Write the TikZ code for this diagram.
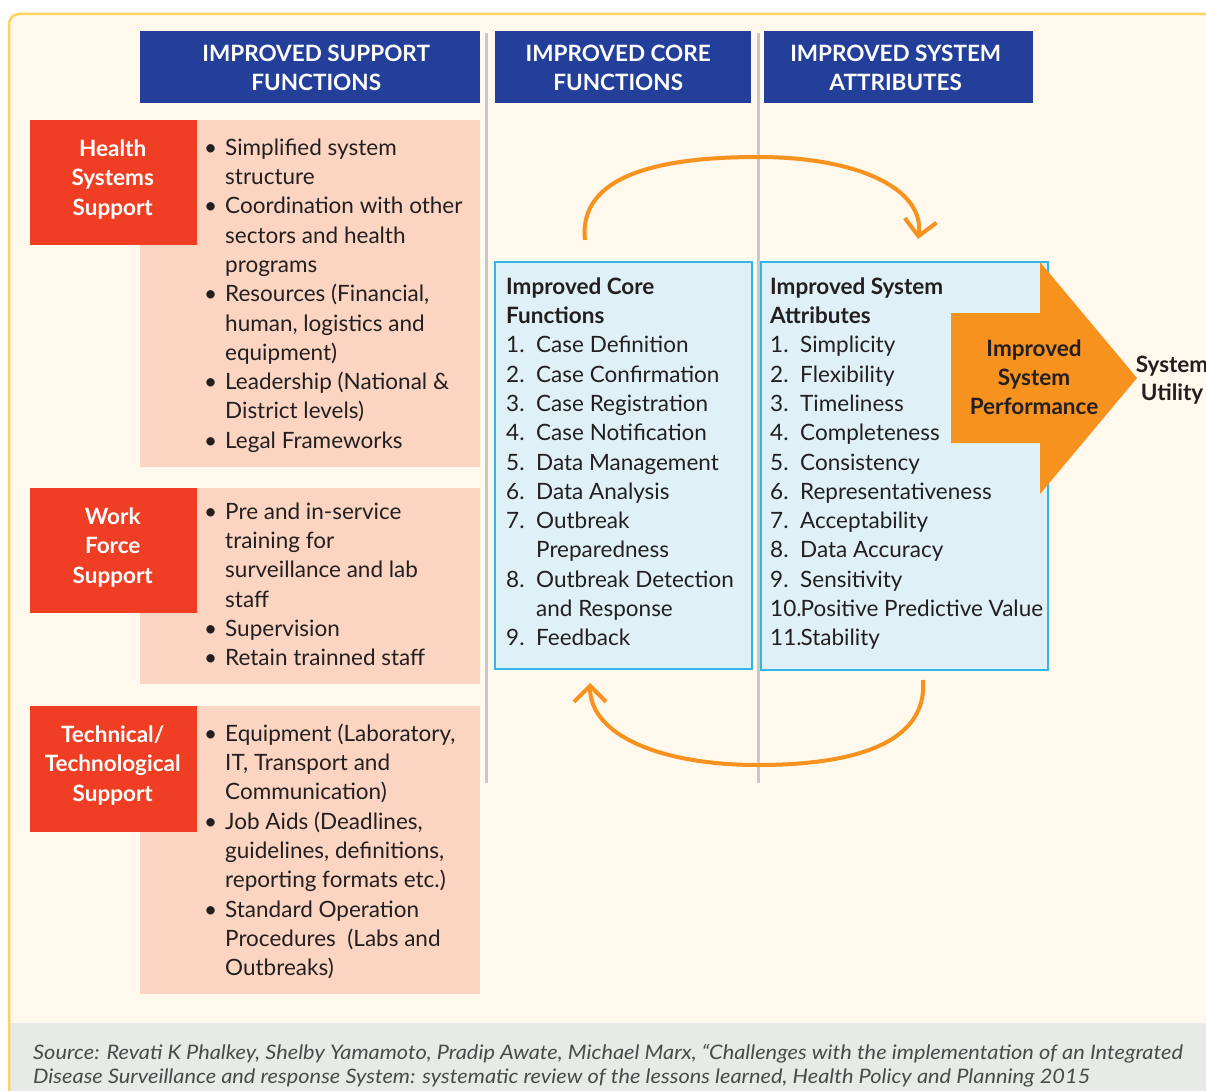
\documentclass[tikz,border=0pt]{standalone}
\usepackage{fontspec}
\setmainfont{Lato}
\newfontfamily\srcfont[FakeStretch=1.09]{Lato}
\usepackage{xcolor}
\usetikzlibrary{arrows.meta}

\definecolor{framey}{HTML}{FFD25C}
\definecolor{cream}{HTML}{FFF8EC}
\definecolor{srcgray}{HTML}{E6EBE7}
\definecolor{srcink}{HTML}{4A4A4A}
\definecolor{hdrblue}{HTML}{233F99}
\definecolor{suppred}{HTML}{EF3E23}
\definecolor{salmon}{HTML}{FBD5C1}
\definecolor{lightb}{HTML}{DFF1F6}
\definecolor{cyanb}{HTML}{33B5E5}
\definecolor{perforange}{HTML}{F7921E}
\definecolor{sepgray}{HTML}{C8C8C8}
\definecolor{ink}{HTML}{231F20}

\newcommand{\bodysize}{\fontsize{22.5}{29.3}\selectfont}

\begin{document}
\begin{tikzpicture}[x=1pt,y=-1pt,
    hdr/.style={fill=hdrblue,inner sep=0pt,anchor=north west,minimum height=72pt},
    hdrtxt/.style={text=white,font=\bfseries\fontsize{22.5}{28.5}\selectfont,inner sep=0pt},
    redbox/.style={fill=suppred,inner sep=0pt,anchor=north west,minimum width=167pt,minimum height=125pt},
    redtxt/.style={text=white,font=\bfseries\fontsize{22.5}{29.5}\selectfont,inner sep=0pt},
    listtxt/.style={text=ink,font=\bodysize,inner sep=0pt,anchor=north west},
    infobox/.style={draw=cyanb,fill=lightb,line width=1.5pt,inner sep=0pt,anchor=north west},
    cyclearrow/.style={draw=perforange,line width=4pt,-{Straight Barb[length=16pt,width=32pt]}}
]
    \useasboundingbox (0,0) rectangle (1206,1091);
    \fill[white] (0,0) rectangle (1206,1091);

    % frame and source band
    \fill[cream,rounded corners=10pt] (9,14) -- (1230,14) -- (1230,1110) -- (9,1110) -- cycle;
    \fill[srcgray] (9,1023) rectangle (1230,1110);
    \draw[framey,line width=2.5pt,rounded corners=10pt] (1230,14) -- (9,14) -- (9,1110);

    % column separators
    \draw[sepgray,line width=3pt] (486,33) -- (486,783);
    \draw[sepgray,line width=3pt] (758,33) -- (758,783);

    % headers
    \node[hdr,minimum width=340pt] (hsupport) at (140,31) {};
    \node[hdr,minimum width=256pt] (hcore) at (495,31) {};
    \node[hdr,minimum width=269pt] (hattr) at (764,31) {};
    \node[hdrtxt] at ([xshift=6pt,yshift=-3pt]hsupport.center) {\begin{tabular}{@{}c@{}}IMPROVED SUPPORT\\FUNCTIONS\end{tabular}};
    \node[hdrtxt] at ([xshift=-5pt,yshift=-3pt]hcore.center) {\begin{tabular}{@{}c@{}}IMPROVED CORE\\FUNCTIONS\end{tabular}};
    \node[hdrtxt] at ([xshift=-3pt,yshift=-3pt]hattr.center) {\begin{tabular}{@{}c@{}}IMPROVED SYSTEM\\ATTRIBUTES\end{tabular}};

    % support functions
    \fill[salmon] (140,120) rectangle (480,467);
    \fill[salmon] (140,488) rectangle (480,684);
    \fill[salmon] (140,706) rectangle (480,994);

    \node[redbox] (hss) at (30,120) {};
    \node[redbox] (wfs) at (30,488) {};
    \node[redbox,minimum height=126pt] (tts) at (30,706) {};
    \node[redtxt] at ([xshift=-1pt,yshift=3pt]hss.center) {\begin{tabular}{@{}c@{}}Health\\Systems\\Support\end{tabular}};
    \node[redtxt] at ([xshift=-1pt,yshift=3pt]wfs.center) {\begin{tabular}{@{}c@{}}Work\\Force\\Support\end{tabular}};
    \node[redtxt] at ([xshift=-1pt,yshift=3.5pt]tts.center) {\begin{tabular}{@{}c@{}}Technical/\\Technological\\Support\end{tabular}};

    \node[listtxt] (hsslist) at (204,134.5) {\begin{tabular}{@{}p{21pt}@{}l@{}}
        \textbullet & Simplified system\\
                    & structure\\
        \textbullet & Coordination with other\\
                    & sectors and health\\
                    & programs\\
        \textbullet & Resources (Financial,\\
                    & human, logistics and\\
                    & equipment)\\
        \textbullet & Leadership (National \&\\
                    & District levels)\\
        \textbullet & Legal Frameworks
    \end{tabular}};
    \node[listtxt] (wfslist) at (204,498.5) {\begin{tabular}{@{}p{21pt}@{}l@{}}
        \textbullet & Pre and in-service\\
                    & training for\\
                    & surveillance and lab\\
                    & staff\\
        \textbullet & Supervision\\
        \textbullet & Retain trainned staff
    \end{tabular}};
    \node[listtxt] (ttslist) at (204,720.5) {\begin{tabular}{@{}p{21pt}@{}l@{}}
        \textbullet & Equipment (Laboratory,\\
                    & IT, Transport and\\
                    & Communication)\\
        \textbullet & Job Aids (Deadlines,\\
                    & guidelines, definitions,\\
                    & reporting formats etc.)\\
        \textbullet & Standard Operation\\
                    & Procedures\ \ (Labs and\\
                    & Outbreaks)
    \end{tabular}};

    % core functions and system attributes
    \node[infobox,minimum width=257pt,minimum height=407pt] (corebox) at (494,261) {};
    \node[infobox,minimum width=287pt,minimum height=408pt] (attrbox) at (760,261) {};

    \node[listtxt] (corelist) at (506,273.5) {\begin{tabular}{@{}p{30pt}@{}l@{}}
        \multicolumn{2}{@{}l@{}}{\bfseries Improved Core}\\
        \multicolumn{2}{@{}l@{}}{\bfseries Functions}\\
        1. & Case Definition\\
        2. & Case Confirmation\\
        3. & Case Registration\\
        4. & Case Notification\\
        5. & Data Management\\
        6. & Data Analysis\\
        7. & Outbreak\\
           & Preparedness\\
        8. & Outbreak Detection\\
           & and Response\\
        9. & Feedback
    \end{tabular}};
    \node[listtxt] (attrlist) at (770,273.5) {\begin{tabular}{@{}p{30pt}@{}l@{}}
        \multicolumn{2}{@{}l@{}}{\bfseries Improved System}\\
        \multicolumn{2}{@{}l@{}}{\bfseries Attributes}\\
        1. & Simplicity\\
        2. & Flexibility\\
        3. & Timeliness\\
        4. & Completeness\\
        5. & Consistency\\
        6. & Representativeness\\
        7. & Acceptability\\
        8. & Data Accuracy\\
        9. & Sensitivity\\
        \multicolumn{2}{@{}l@{}}{10.\kern-1pt Positive Predictive Value}\\
        \multicolumn{2}{@{}l@{}}{11.\kern-1pt Stability}
    \end{tabular}};

    % performance arrow
    \fill[perforange] (951,313) -- (1040,313) -- (1040,262) -- (1137,378)
        -- (1040,494) -- (1040,443) -- (951,443) -- cycle;
    \node[text=ink,font=\bfseries\fontsize{22.5}{29}\selectfont,inner sep=0pt] (perf) at (1034,380)
        {\begin{tabular}{@{}c@{}}Improved\\System\\Performance\end{tabular}};
    \node[text=ink,font=\bfseries\fontsize{22.5}{28.5}\selectfont,inner sep=0pt] (utility) at (1172,381)
        {\begin{tabular}{@{}c@{}}System\\Utility\end{tabular}};

    % feedback loops
    \coordinate (topstart) at (585,240);
    \coordinate (topmid) at (758,157);
    \coordinate (topend) at (918,239);
    \draw[cyclearrow] (topstart) .. controls (578,175) and (660,157) .. (topmid)
        .. controls (860,157) and (925,190) .. (topend);
    \coordinate (botstart) at (923,680);
    \coordinate (botmid) at (758,765);
    \coordinate (botend) at (590,683);
    \draw[cyclearrow] (botstart) .. controls (928,745) and (850,765) .. (botmid)
        .. controls (660,765) and (590,735) .. (botend);

    % source
    \node[anchor=north west,text=srcink,font=\srcfont\itshape\fontsize{20}{24}\selectfont,inner sep=0pt] (src) at (33,1042.5)
        {\begin{tabular}{@{}l@{}}Source: Revati K Phalkey, Shelby Yamamoto, Pradip Awate, Michael Marx, “Challenges with the implementation of an Integrated\\
        Disease Surveillance and response System: systematic review of the lessons learned, Health Policy and Planning 2015\end{tabular}};
\end{tikzpicture}
\end{document}
